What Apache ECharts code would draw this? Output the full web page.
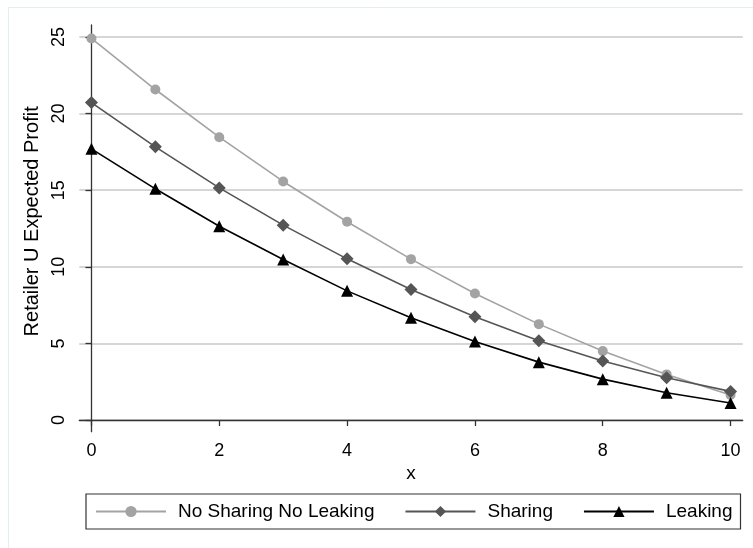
<!DOCTYPE html>
<html><head><meta charset="utf-8">
<script src="https://cdn.jsdelivr.net/npm/echarts@6/dist/echarts.min.js"></script>
<style>html,body{margin:0;padding:0;background:#fff}#c{width:753px;height:548px}</style>
</head><body><div id="c"></div>
<script>
const xValues = [0, 1, 2, 3, 4, 5, 6, 7, 8, 9, 10];
const noSharingNoLeaking = [24.9, 21.57, 18.46, 15.57, 12.94, 10.5, 8.26, 6.26, 4.5, 2.98, 1.63];
const sharing = [20.72, 17.83, 15.15, 12.72, 10.52, 8.52, 6.74, 5.17, 3.85, 2.76, 1.87];
const leaking = [17.7, 15.09, 12.65, 10.48, 8.43, 6.68, 5.13, 3.78, 2.67, 1.78, 1.11];
const xTicks = [0, 2, 4, 6, 8, 10];
const yTicks = [0, 5, 10, 15, 20, 25];
const seriesNames = ['No Sharing No Leaking', 'Sharing', 'Leaking'];

const FONT = '"Liberation Sans", Arial, Helvetica, sans-serif';
const pairs = arr => xValues.map((x, i) => [x, arr[i]]);

const chart = echarts.init(document.getElementById('c'), null, {renderer: 'canvas'});
chart.setOption({
  backgroundColor: '#ffffff',
  animation: false,
  textStyle: {fontFamily: FONT},
  graphic: [{
    type: 'rect', left: 6, top: 5, silent: true, z: -1,
    shape: {width: 800, height: 600},
    style: {fill: 'none', stroke: '#e4eef0', lineWidth: 1}
  }],
  grid: {left: 79.3, right: 10.3, top: 25, bottom: 116.3, containLabel: false},
  xAxis: {
    type: 'value', min: -0.19, max: 10.19,
    name: 'x', nameLocation: 'middle', nameGap: 28,
    nameTextStyle: {fontSize: 19, color: '#000', fontFamily: FONT},
    axisLine: {show: true, lineStyle: {color: '#333', width: 1.3}},
    axisTick: {show: true, length: 6, customValues: xTicks, lineStyle: {color: '#333', width: 1.3}},
    axisLabel: {customValues: xTicks, fontSize: 18, color: '#000', margin: 10, fontFamily: FONT},
    splitLine: {show: false}
  },
  yAxis: {
    type: 'value', min: -0.76, max: 25.78,
    name: 'Retailer U Expected Profit', nameLocation: 'middle', nameGap: 30,
    nameTextStyle: {fontSize: 20, color: '#000', fontFamily: FONT, padding: [0, 0, 0, 14]},
    axisLine: {show: true, lineStyle: {color: '#333', width: 1.3}},
    axisTick: {show: true, length: 6, customValues: yTicks, lineStyle: {color: '#333', width: 1.3}},
    axisLabel: {customValues: yTicks, rotate: 90, fontSize: 18, color: '#000', margin: 11, fontFamily: FONT},
    splitLine: {show: true, lineStyle: {color: '#c8c8c8', width: 1.5}}
  },
  legend: {
    left: 86, top: 494,
    data: seriesNames,
    orient: 'horizontal',
    itemWidth: 70, itemHeight: 14, itemGap: 30,
    padding: [8, 8, 8, 9],
    borderColor: '#333', borderWidth: 1.2, borderRadius: 0,
    backgroundColor: '#fff',
    selectedMode: false,
    textStyle: {fontSize: 19, color: '#000', lineHeight: 19, padding: [0, 0, 0, 7], fontFamily: FONT}
  },
  series: [
    {
      name: seriesNames[0], type: 'line', data: pairs(noSharingNoLeaking),
      symbol: 'circle', symbolSize: 10, z: 2,
      lineStyle: {color: '#a3a3a3', width: 1.6},
      itemStyle: {color: '#a3a3a3'}
    },
    {
      name: seriesNames[1], type: 'line', data: pairs(sharing),
      symbol: 'diamond', symbolSize: 13, z: 3,
      lineStyle: {color: '#555555', width: 1.6},
      itemStyle: {color: '#555555'}
    },
    {
      name: seriesNames[2], type: 'line', data: pairs(leaking),
      symbol: 'triangle', symbolSize: 12, z: 4,
      lineStyle: {color: '#000000', width: 1.6},
      itemStyle: {color: '#000000'}
    }
  ]
});
</script></body></html>
